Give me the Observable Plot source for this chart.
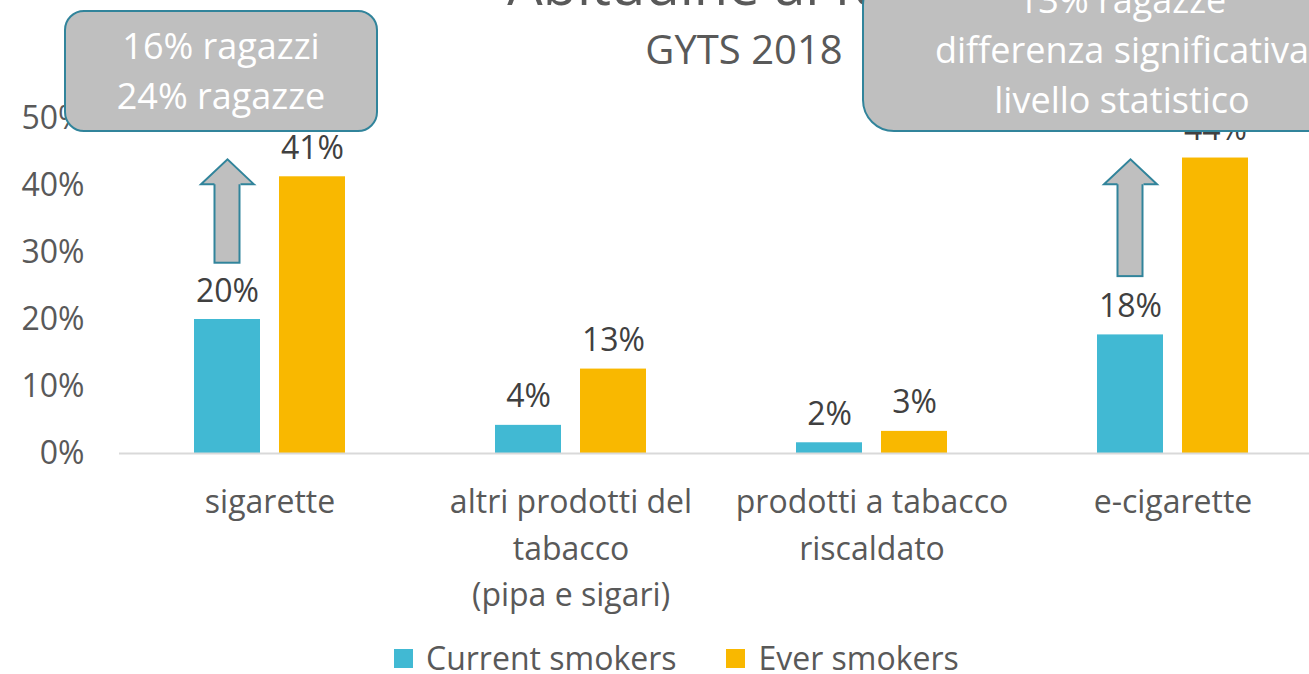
<!DOCTYPE html>
<html><head><meta charset="utf-8">
<script src="https://cdn.jsdelivr.net/npm/d3@7"></script>
<script src="https://cdn.jsdelivr.net/npm/@observablehq/plot@0.6"></script>
<style>
html,body{margin:0;padding:0;overflow:hidden;background:#fff;width:1309px;height:674px;}
#wrap{position:relative;width:1309px;height:674px;overflow:hidden;font-family:"Open Sans",sans-serif;}
#chart{position:absolute;left:0;top:0;width:1323px;}
#chart svg{max-width:none !important;}
.title{position:absolute;left:240px;width:1000px;text-align:center;top:-45px;font-size:56px;line-height:56px;color:#595959;white-space:nowrap;}
.subtitle{position:absolute;left:244px;width:1000px;text-align:center;top:29px;font-size:40px;line-height:40px;color:#595959;white-space:nowrap;}
.box{position:absolute;box-sizing:border-box;background:#bfbfbf;border:2px solid #31849b;color:#fff;text-align:center;font-size:36px;line-height:50px;white-space:nowrap;}
.box1{left:64px;top:10px;width:314px;height:122px;border-radius:20px;padding-top:9px;}
.box2{left:862px;top:-27px;width:520px;height:159px;border-radius:32px;}
.legend{position:absolute;left:394px;top:641px;height:34px;line-height:34px;display:flex;align-items:center;font-size:32px;color:#595959;white-space:nowrap;}
.sw{display:inline-block;width:19px;height:19px;margin-right:13px;}
.item{display:flex;align-items:center;margin-right:50px;}
</style>
</head><body>
<div id="wrap">
  <div id="chart"></div>
  <div class="title">Abitudine al fumo</div>
  <div class="subtitle">GYTS 2018</div>
  <div class="box box1">16% ragazzi<br>24% ragazze</div>
  <div class="box box2">13% ragazze<br>differenza significativa<br>livello statistico</div>
  <div class="legend" id="legend"></div>
</div>
<script>
const categories = ["sigarette", "altri prodotti del\ntabacco\n(pipa e sigari)", "prodotti a tabacco\nriscaldato", "e-cigarette"];
const series = ["Current smokers", "Ever smokers"];
const currentSmokers = [0.20, 0.042, 0.016, 0.177];
const everSmokers = [0.413, 0.126, 0.033, 0.441];
const yTicks = [0, 0.1, 0.2, 0.3, 0.4, 0.5];
const seriesColors = ["#41B9D3", "#F9B800"];
const arrowCategories = [categories[0], categories[3]];
const arrowBase = [0.284, 0.264];
const arrowTip = [0.439, 0.439];

const rows = categories.flatMap((c, i) => [
  {category: c, series: series[0], value: currentSmokers[i]},
  {category: c, series: series[1], value: everSmokers[i]}
]);
const arrows = arrowCategories.map((c, i) => ({category: c, series: series[0], base: arrowBase[i], tip: arrowTip[i]}));
const pct = d3.format(".0%");

const arrowHead = {
  draw(ctx) {
    ctx.moveTo(-13, 25);
    ctx.lineTo(-26.5, 25);
    ctx.lineTo(0, 0);
    ctx.lineTo(26.5, 25);
    ctx.lineTo(13, 25);
  }
};

const chart = Plot.plot({
  width: 1323,
  height: 640,
  marginLeft: 118,
  marginRight: 0,
  marginTop: 118,
  marginBottom: 187,
  style: {fontFamily: "'Open Sans', sans-serif", background: "transparent", overflow: "visible", maxWidth: "none"},
  fx: {domain: categories, padding: 0, label: null, axis: null},
  x: {domain: series, paddingInner: 0.221, paddingOuter: 0.862, axis: null},
  y: {domain: [0, 0.5], axis: null},
  color: {domain: series, range: seriesColors},
  marks: [
    Plot.axisY({ticks: yTicks, tickFormat: pct, tickSize: 0, tickPadding: 35, fontSize: 32, color: "#595959", label: null}),
    Plot.axisFx({anchor: "bottom", tickSize: 0, tickPadding: 27, fontSize: 32, lineHeight: 1.45, color: "#595959", label: null}),
    Plot.barY(rows, {fx: "category", x: "series", y: "value", fill: "series"}),
    Plot.ruleY([0], {stroke: "#d9d9d9", strokeWidth: 2}),
    Plot.text(rows, {fx: "category", x: "series", y: "value", text: d => pct(d.value), dy: -18, lineAnchor: "bottom", fontSize: 32, fill: "#404040"}),
    Plot.barY(arrows, {fx: "category", x: "series", y1: "base", y2: "tip", insetTop: 20, insetLeft: 20.5, insetRight: 20.5, fill: "#bfbfbf", stroke: "#31849b", strokeWidth: 2}),
    Plot.dot(arrows, {fx: "category", x: "series", y: "tip", symbol: arrowHead, r: 5, fill: "#bfbfbf", stroke: "#31849b", strokeWidth: 2})
  ]
});
document.getElementById("chart").appendChild(chart);

const legend = document.getElementById("legend");
series.forEach((s, i) => {
  const item = document.createElement("div");
  item.className = "item";
  const sw = document.createElement("span");
  sw.className = "sw";
  sw.style.background = seriesColors[i];
  item.appendChild(sw);
  item.appendChild(document.createTextNode(s));
  legend.appendChild(item);
});
</script>
</body></html>
